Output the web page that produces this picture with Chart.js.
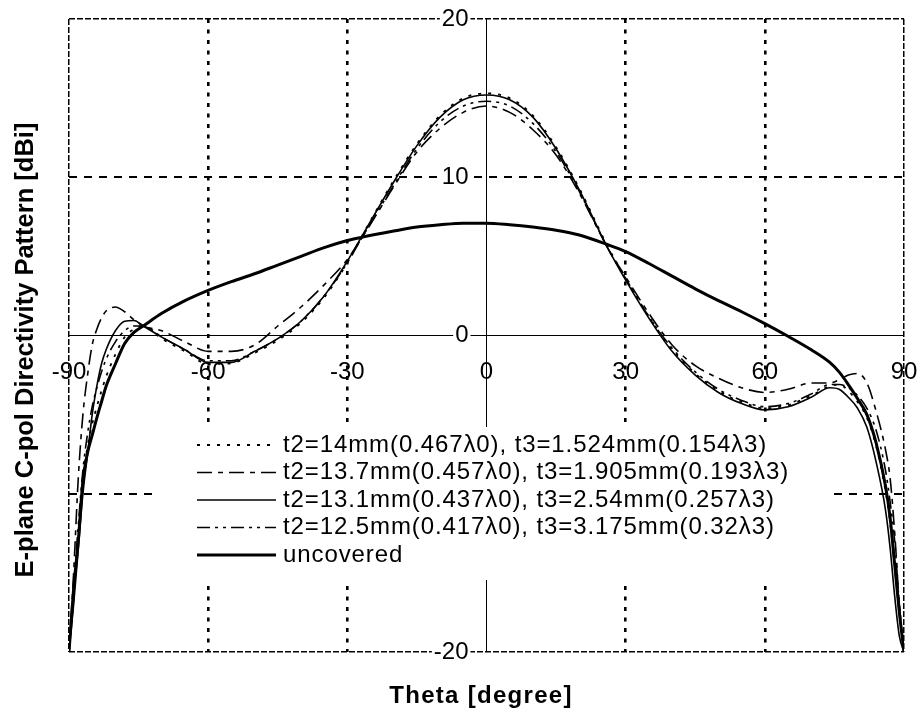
<!DOCTYPE html>
<html>
<head>
<meta charset="utf-8">
<script src="https://cdn.jsdelivr.net/npm/chart.js@4.4.0/dist/chart.umd.min.js"></script>
<style>
  html, body { margin: 0; padding: 0; background: #fff; }
  #wrap { width: 920px; height: 715px; }
</style>
</head>
<body>
<div id="wrap"><canvas id="chart"></canvas></div>
<script>
// Theta [degree]
const theta = [-90, -89, -88, -87, -86, -85, -84, -83, -82, -80, -78, -76, -74,
  -70, -65, -60, -55, -50, -45, -40, -35, -30, -27, -20, -15, -10, -5, 0, 5, 10, 15, 20,
  26, 30, 35, 40, 45, 50, 55, 60, 65, 70, 74, 76, 78, 80, 82, 84, 86, 87, 88, 89, 90];

// Directivity [dBi]
const t14 = [-20, -16.5, -12.5, -9.0, -7.0, -5.6, -4.5, -3.5, -2.6, -1.2, -0.1, 0.4, 0.6,
  -0.2, -1.0, -1.8, -1.75, -1.1, -0.3, 0.8, 2.4, 4.6, 6.2, 9.8, 12.1, 13.9, 15.0, 15.3, 15.0, 13.9, 11.9, 9.3,
  5.7, 3.6, 1.2, -0.9, -2.4, -3.5, -4.2, -4.6, -4.4, -3.8, -3.2, -3.1, -3.5, -4.2, -5.2, -7.0, -9.8, -11.8, -14.5, -17.5, -20];
const t137 = [-20, -15, -9, -5, -2.5, -0.6, 0.4, 1.1, 1.55, 1.8, 1.5, 1.0, 0.6,
  0.3, -0.4, -1.0, -1.0, -0.6, 0.6, 1.8, 3.2, 4.8, 6.1, 9.4, 11.6, 13.1, 14.1, 14.5, 14.1, 13.0, 11.4, 9.0,
  5.6, 3.7, 1.4, -0.6, -1.9, -2.7, -3.3, -3.6, -3.4, -3.0, -3.0, -2.8, -2.5, -2.4, -3.0, -4.8, -7.2, -9.0, -12.5, -17, -20];
const t131 = [-20, -17, -13.5, -10, -7.5, -5.0, -3.2, -1.8, -0.9, 0.3, 0.9, 0.95, 0.6,
  -0.1, -0.9, -1.7, -1.7, -1.0, -0.2, 0.9, 2.5, 4.7, 6.2, 9.7, 12.0, 13.8, 14.9, 15.2, 14.9, 13.8, 11.8, 9.2,
  5.6, 3.5, 1.1, -1.0, -2.5, -3.6, -4.3, -4.7, -4.5, -3.9, -3.3, -3.4, -3.9, -4.6, -5.8, -8.0, -11.0, -13.4, -16.5, -19, -20];
const t125 = [-20, -16, -12, -8.5, -6.2, -4.5, -3.3, -2.3, -1.5, -0.4, 0.3, 0.6, 0.6,
  -0.1, -0.9, -1.6, -1.6, -1.0, -0.2, 0.9, 2.5, 4.6, 6.1, 9.5, 11.8, 13.5, 14.5, 14.8, 14.5, 13.4, 11.6, 9.1,
  5.6, 3.6, 1.2, -0.8, -2.3, -3.4, -4.1, -4.5, -4.3, -3.7, -3.1, -3.1, -3.3, -3.8, -4.6, -6.0, -8.5, -10.5, -13.0, -17.0, -20];
const uncovered = [-20, -16, -13, -9.2, -7.4, -6.3, -5.2, -4.2, -3.2, -1.8, -0.5, 0.2, 0.6,
  1.4, 2.2, 2.85, 3.4, 3.9, 4.45, 5.0, 5.55, 6.0, 6.2, 6.6, 6.85, 7.0, 7.1, 7.1, 7.0, 6.85, 6.65, 6.35,
  5.75, 5.3, 4.55, 3.75, 2.95, 2.2, 1.5, 0.75, -0.05, -0.9, -1.7, -2.3, -3.1, -4.0, -5.0, -6.8, -9.5, -11.5, -14.5, -17.5, -20];

const seriesLabels = [
  't2=14mm(0.467λ0), t3=1.524mm(0.154λ3)',
  't2=13.7mm(0.457λ0), t3=1.905mm(0.193λ3)',
  't2=13.1mm(0.437λ0), t3=2.54mm(0.257λ3)',
  't2=12.5mm(0.417λ0), t3=3.175mm(0.32λ3)',
  'uncovered'
];

const xTicks = [-90, -60, -30, 0, 30, 60, 90];
const yTicks = [-20, -10, 0, 10, 20];

const FONT = '"Liberation Sans", Arial, sans-serif';

function pts(arr) {
  return theta.map((t, i) => ({ x: t, y: arr[i] }));
}

// estilos de linea de cada serie
const lineStyles = [
  { dash: [3, 7], width: 1.8 },
  { dash: [15, 6, 5, 6], width: 1.6 },
  { dash: [], width: 1.6 },
  { dash: [13, 5, 3, 5, 3, 5], width: 1.6 },
  { dash: [], width: 3 }
];

const valores = [t14, t137, t131, t125, uncovered];

const datasets = valores.map((arr, i) => ({
  label: seriesLabels[i],
  data: pts(arr),
  borderColor: '#000',
  borderWidth: lineStyles[i].width,
  borderDash: lineStyles[i].dash,
  pointRadius: 0,
  fill: false,
  cubicInterpolationMode: 'monotone'
}));

function gridStyle(axisEnd, dotted) {
  return {
    color: () => '#000',
    lineWidth: c => {
      const v = c.tick ? c.tick.value : 0;
      if (Math.abs(v) === axisEnd) return 1.5;
      if (v === 0) return 1;
      return dotted ? 2.6 : 2;
    }
  };
}

function gridDash(axisEnd, dotted) {
  return c => {
    if (!c.tick) return [];
    const v = c.tick.value;
    if (Math.abs(v) === axisEnd) return [6, 2];
    if (v === 0) return [];
    return dotted ? [4, 6.5] : [8, 7];
  };
}

// etiquetas de ejes, leyenda y titulos
const decor = {
  id: 'decor',
  beforeDatasetsDraw(chart) {
    const { ctx, scales: { x, y } } = chart;
    const x0 = x.getPixelForValue(0);
    const y0 = y.getPixelForValue(0);
    ctx.save();
    ctx.font = `24px ${FONT}`;
    ctx.fillStyle = '#000';
    ctx.textAlign = 'center';
    ctx.textBaseline = 'middle';
    xTicks.forEach(v => ctx.fillText(String(v), x.getPixelForValue(v), y0 + 37));
    ctx.textAlign = 'right';
    yTicks.forEach(v => {
      const py = y.getPixelForValue(v);
      const s = String(v);
      const w = ctx.measureText(s).width;
      ctx.fillStyle = '#fff';
      ctx.fillRect(x0 - 18 - w - 2, py - 10, w + 4, 20);
      ctx.fillStyle = '#000';
      ctx.fillText(s, x0 - 18, py);
    });
    // fondo blanco de la leyenda
    ctx.fillStyle = '#fff';
    ctx.fillRect(152, 427, 678, 153);
    ctx.restore();
  },
  afterDatasetsDraw(chart) {
    const { ctx } = chart;
    ctx.save();
    ctx.strokeStyle = '#000';
    ctx.fillStyle = '#000';
    ctx.font = `24px ${FONT}`;
    ctx.letterSpacing = '0.9px';
    ctx.textAlign = 'left';
    ctx.textBaseline = 'middle';
    chart.data.datasets.forEach((ds, i) => {
      const yy = 445 + i * 27.5;
      ctx.lineWidth = ds.borderWidth;
      ctx.setLineDash(ds.borderDash);
      ctx.beginPath();
      ctx.moveTo(197, yy);
      ctx.lineTo(276, yy);
      ctx.stroke();
      ctx.fillText(ds.label, 283, yy);
    });
    ctx.setLineDash([]);

    // titulos de ejes
    ctx.font = `bold 24px ${FONT}`;
    ctx.letterSpacing = '1.3px';
    ctx.textAlign = 'center';
    ctx.fillText('Theta [degree]', 481, 696);

    ctx.font = `bold 25.5px ${FONT}`;
    ctx.letterSpacing = '0px';
    ctx.textBaseline = 'alphabetic';
    ctx.translate(33, 350);
    ctx.rotate(-Math.PI / 2);
    ctx.fillText('E-plane C-pol Directivity Pattern [dBi]', 0, 0);
    ctx.restore();
  }
};

new Chart(document.getElementById('chart'), {
  type: 'line',
  data: { datasets },
  options: {
    responsive: true,
    maintainAspectRatio: false,
    animation: false,
    layout: { padding: { left: 69, right: 16, top: 19, bottom: 63 } },
    plugins: {
      legend: { display: false },
      tooltip: { enabled: false }
    },
    scales: {
      x: {
        type: 'linear',
        min: -90,
        max: 90,
        afterBuildTicks: s => { s.ticks = xTicks.map(v => ({ value: v })); },
        ticks: { display: false },
        grid: Object.assign({ drawTicks: false }, gridStyle(90, true)),
        border: { display: false, dash: gridDash(90, true) }
      },
      y: {
        type: 'linear',
        min: -20,
        max: 20,
        afterBuildTicks: s => { s.ticks = yTicks.map(v => ({ value: v })); },
        ticks: { display: false },
        grid: Object.assign({ drawTicks: false }, gridStyle(20, false)),
        border: { display: false, dash: gridDash(20, false) }
      }
    }
  },
  plugins: [decor]
});
</script>
</body>
</html>
